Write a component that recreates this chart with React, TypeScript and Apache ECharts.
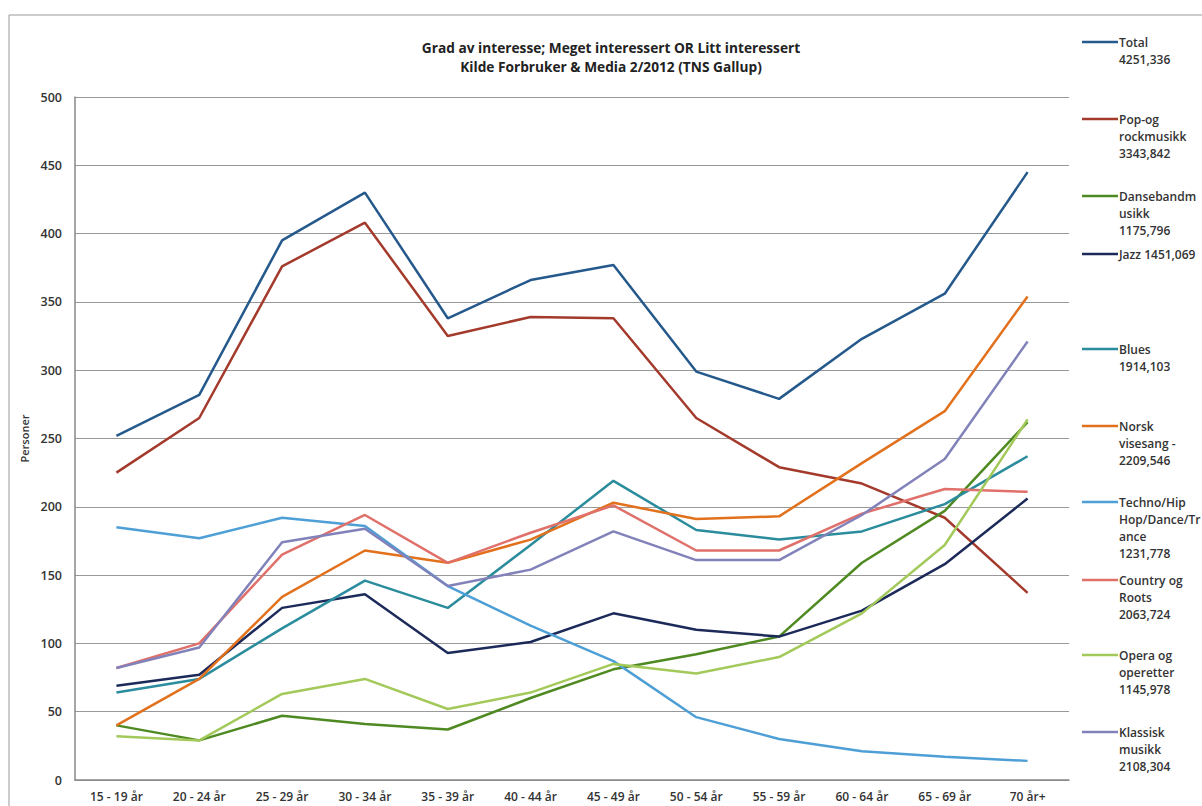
import React, { useEffect, useRef } from "react";
import * as echarts from "echarts";

const categories = ["15 - 19 år", "20 - 24 år", "25 - 29 år", "30 - 34 år", "35 - 39 år", "40 - 44 år", "45 - 49 år", "50 - 54 år", "55 - 59 år", "60 - 64 år", "65 - 69 år", "70 år+"];

const total = [252, 282, 395, 430, 338, 366, 377, 299, 279, 323, 356, 445];
const popRock = [225, 265, 376, 408, 325, 339, 338, 265, 229, 217, 192, 137];
const dansebandmusikk = [40, 29, 47, 41, 37, 60, 81, 92, 105, 159, 197, 262];
const jazz = [69, 77, 126, 136, 93, 101, 122, 110, 105, 124, 158, 206];
const blues = [64, 74, 111, 146, 126, 172, 219, 183, 176, 182, 202, 237];
const norskVisesang = [40, 74, 134, 168, 159, 176, 203, 191, 193, 232, 270, 354];
const techno = [185, 177, 192, 186, 142, 113, 87, 46, 30, 21, 17, 14];
const countryRoots = [82, 100, 165, 194, 159, 181, 201, 168, 168, 195, 213, 211];
const opera = [32, 29, 63, 74, 52, 64, 85, 78, 90, 122, 172, 264];
const klassisk = [82, 97, 174, 184, 142, 154, 182, 161, 161, 194, 235, 321];

const seriesNames = ["Total", "Pop-og rockmusikk", "Dansebandmusikk", "Jazz", "Blues", "Norsk visesang", "Techno/Hip Hop/Dance/Trance", "Country og Roots", "Opera og operetter", "Klassisk musikk"];
const seriesData = [total, popRock, dansebandmusikk, jazz, blues, norskVisesang, techno, countryRoots, opera, klassisk];
const seriesColors = ["#25598c", "#a33a2c", "#4e8a21", "#1c2a5a", "#2a8c9c", "#e2711d", "#4d9fd6", "#e0706a", "#a3c95a", "#8282ba"];
const legendLabels = [
  ["Total", "4251,336"],
  ["Pop-og", "rockmusikk", "3343,842"],
  ["Dansebandm", "usikk", "1175,796"],
  ["Jazz 1451,069"],
  ["Blues", "1914,103"],
  ["Norsk", "visesang -", "2209,546"],
  ["Techno/Hip", "Hop/Dance/Tr", "ance", "1231,778"],
  ["Country og", "Roots", "2063,724"],
  ["Opera og", "operetter", "1145,978"],
  ["Klassisk", "musikk", "2108,304"],
];
const legendTops = [42, 119, 196, 254, 349, 426, 502, 580, 655, 732];

const titleLines = ["Grad av interesse; Meget interessert OR Litt interessert", "Kilde Forbruker & Media 2/2012 (TNS Gallup)"];
const yAxisName = "Personer";

const FONT = "'Open Sans', Lato, sans-serif";

export default function App() {
  const ref = useRef<HTMLDivElement>(null);
  useEffect(() => {
    if (!ref.current) return;
    const chart = echarts.init(ref.current, undefined, { renderer: "svg" });
    const legendGraphics: any[] = [];
    legendLabels.forEach((lines, i) => {
      const y = legendTops[i];
      legendGraphics.push({
        type: "line",
        shape: { x1: 1082, y1: y, x2: 1118, y2: y },
        style: { stroke: seriesColors[i], lineWidth: 2.5 },
      });
      legendGraphics.push({
        type: "text",
        x: 1119,
        y: y - 8.5,
        style: {
          text: lines.join("\n"),
          font: `600 12px ${FONT}`,
          fill: "#333",
          lineHeight: 17,
          textVerticalAlign: "top",
        },
      });
    });
    chart.setOption({
      animation: false,
      backgroundColor: "#fff",
      title: {
        text: titleLines.join("\n"),
        left: 606,
        top: 33,
        textAlign: "center",
        textStyle: { fontFamily: FONT, fontWeight: "bold", fontSize: 13.7, color: "#222", lineHeight: 19 },
      },
      graphic: [
        {
          type: "rect",
          shape: { x: 9, y: 15, width: 1300, height: 900 },
          style: { fill: "none", stroke: "#999", lineWidth: 1 },
          silent: true,
        },
        ...legendGraphics,
      ],
      grid: { left: 75, right: 133, top: 97, bottom: 26, containLabel: false },
      xAxis: {
        type: "category",
        data: categories,
        boundaryGap: true,
        axisLine: { show: true, lineStyle: { color: "#888", width: 1.5 } },
        axisTick: { show: false },
        axisLabel: { fontFamily: FONT, fontSize: 12, fontWeight: 600, color: "#333", margin: 10, interval: 0 },
      },
      yAxis: {
        type: "value",
        min: 0,
        max: 500,
        interval: 50,
        name: yAxisName,
        nameLocation: "middle",
        nameRotate: 90,
        nameGap: 45,
        nameTextStyle: { fontFamily: FONT, fontSize: 11, fontWeight: 600, color: "#333" },
        axisLine: { show: true, lineStyle: { color: "#888", width: 1.5 } },
        axisTick: { show: false },
        axisLabel: { fontFamily: FONT, fontSize: 12.5, fontWeight: 600, color: "#333", margin: 13 },
        splitLine: { show: true, lineStyle: { color: "#999", width: 1 } },
      },
      series: seriesNames.map((name, i) => ({
        name,
        type: "line",
        data: seriesData[i],
        symbol: "none",
        smooth: false,
        lineStyle: { color: seriesColors[i], width: 2.5 },
        itemStyle: { color: seriesColors[i] },
      })),
    });
    return () => chart.dispose();
  }, []);
  return <div ref={ref} style={{ position: "fixed", left: 0, top: 0, width: 1202, height: 806 }} />;
}
